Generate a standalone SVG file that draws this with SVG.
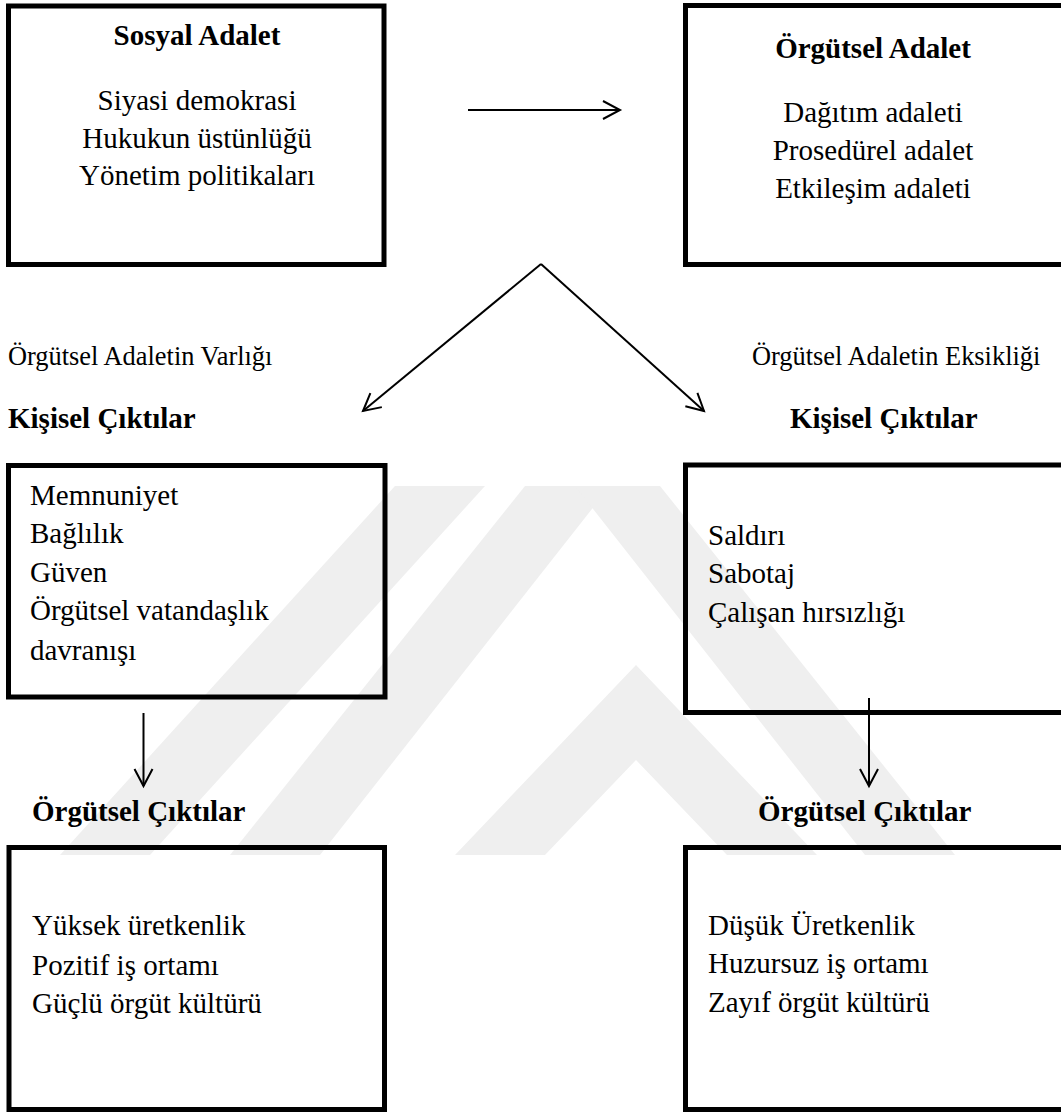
<svg xmlns="http://www.w3.org/2000/svg" width="1061" height="1113" viewBox="0 0 1061 1113">
<style>
.box{fill:none;stroke:#000;stroke-width:5}
.t{font-family:"Liberation Serif","Times New Roman",serif;font-size:29px;fill:#000}
.b{font-weight:bold}
.lbl{font-family:"Liberation Serif","Times New Roman",serif;font-size:26.4px;fill:#000}
.c{text-anchor:middle}
.con{stroke:#000;stroke-width:2;fill:none}
.wm{fill:#efefef}
</style>
<defs>
<marker id="ah" markerUnits="userSpaceOnUse" markerWidth="22" markerHeight="22" refX="19" refY="11" orient="auto">
<path d="M2,2 L19,11 L2,20" fill="none" stroke="#000" stroke-width="2"/>
</marker>
</defs>
<rect width="1061" height="1113" fill="#fff"/>
<g id="watermark">
<polygon class="wm" points="60,855 150,855 485,486 395,486"/>
<polygon class="wm" points="230,855 320,855 610,486 525,486"/>
<polygon class="wm" points="455,855 545,855 636,760 727,855 817,855 636,665"/>
<polygon class="wm" points="575,486 660,486 955,855 865,855"/>
</g>
<g id="connectors">
<line class="con" x1="468" y1="110" x2="620" y2="110" marker-end="url(#ah)"/>
<line class="con" x1="541" y1="264" x2="363" y2="411" marker-end="url(#ah)"/>
<line class="con" x1="541" y1="264" x2="704" y2="411" marker-end="url(#ah)"/>
<line class="con" x1="143.5" y1="713" x2="143.5" y2="786" marker-end="url(#ah)"/>
<line class="con" x1="869" y1="698" x2="869" y2="786" marker-end="url(#ah)"/>
</g>
<g id="sosyal-adalet">
<rect class="box" x="8.5" y="6" width="375.5" height="258.5"/>
<text class="t b c" x="197" y="45">Sosyal Adalet</text>
<text class="t c" x="197" y="110">Siyasi demokrasi</text>
<text class="t c" x="197" y="147.5">Hukukun üstünlüğü</text>
<text class="t c" x="197" y="185">Yönetim politikaları</text>
</g>
<g id="orgutsel-adalet">
<rect class="box" x="685.5" y="5.5" width="400" height="259"/>
<text class="t b c" x="873" y="58">Örgütsel Adalet</text>
<text class="t c" x="873" y="122">Dağıtım adaleti</text>
<text class="t c" x="873" y="160">Prosedürel adalet</text>
<text class="t c" x="873" y="198">Etkileşim adaleti</text>
</g>
<g id="label-varlik">
<text class="lbl" x="8" y="365">Örgütsel Adaletin Varlığı</text>
<text class="t b" x="8" y="428">Kişisel Çıktılar</text>
</g>
<g id="label-eksiklik">
<text class="lbl" x="752" y="365">Örgütsel Adaletin Eksikliği</text>
<text class="t b" x="790" y="428">Kişisel Çıktılar</text>
</g>
<g id="kisisel-olumlu">
<rect class="box" x="8.5" y="465.5" width="376.5" height="231.5"/>
<text class="t" x="30" y="505">Memnuniyet</text>
<text class="t" x="30" y="543">Bağlılık</text>
<text class="t" x="30" y="582">Güven</text>
<text class="t" x="30" y="620">Örgütsel vatandaşlık</text>
<text class="t" x="30" y="660">davranışı</text>
</g>
<g id="kisisel-olumsuz">
<rect class="box" x="685.5" y="465" width="400" height="247.5"/>
<text class="t" x="708" y="545">Saldırı</text>
<text class="t" x="708" y="583">Sabotaj</text>
<text class="t" x="708" y="622">Çalışan hırsızlığı</text>
</g>
<g id="label-orgutsel-sol">
<text class="t b" x="32" y="821">Örgütsel Çıktılar</text>
</g>
<g id="label-orgutsel-sag">
<text class="t b" x="758" y="821">Örgütsel Çıktılar</text>
</g>
<g id="orgutsel-olumlu">
<rect class="box" x="9" y="847.5" width="375.5" height="262"/>
<text class="t" x="32" y="935">Yüksek üretkenlik</text>
<text class="t" x="32" y="975">Pozitif iş ortamı</text>
<text class="t" x="32" y="1013">Güçlü örgüt kültürü</text>
</g>
<g id="orgutsel-olumsuz">
<rect class="box" x="685.5" y="847.5" width="400" height="262"/>
<text class="t" x="708" y="935">Düşük Üretkenlik</text>
<text class="t" x="708" y="973">Huzursuz iş ortamı</text>
<text class="t" x="708" y="1012">Zayıf örgüt kültürü</text>
</g>
</svg>
